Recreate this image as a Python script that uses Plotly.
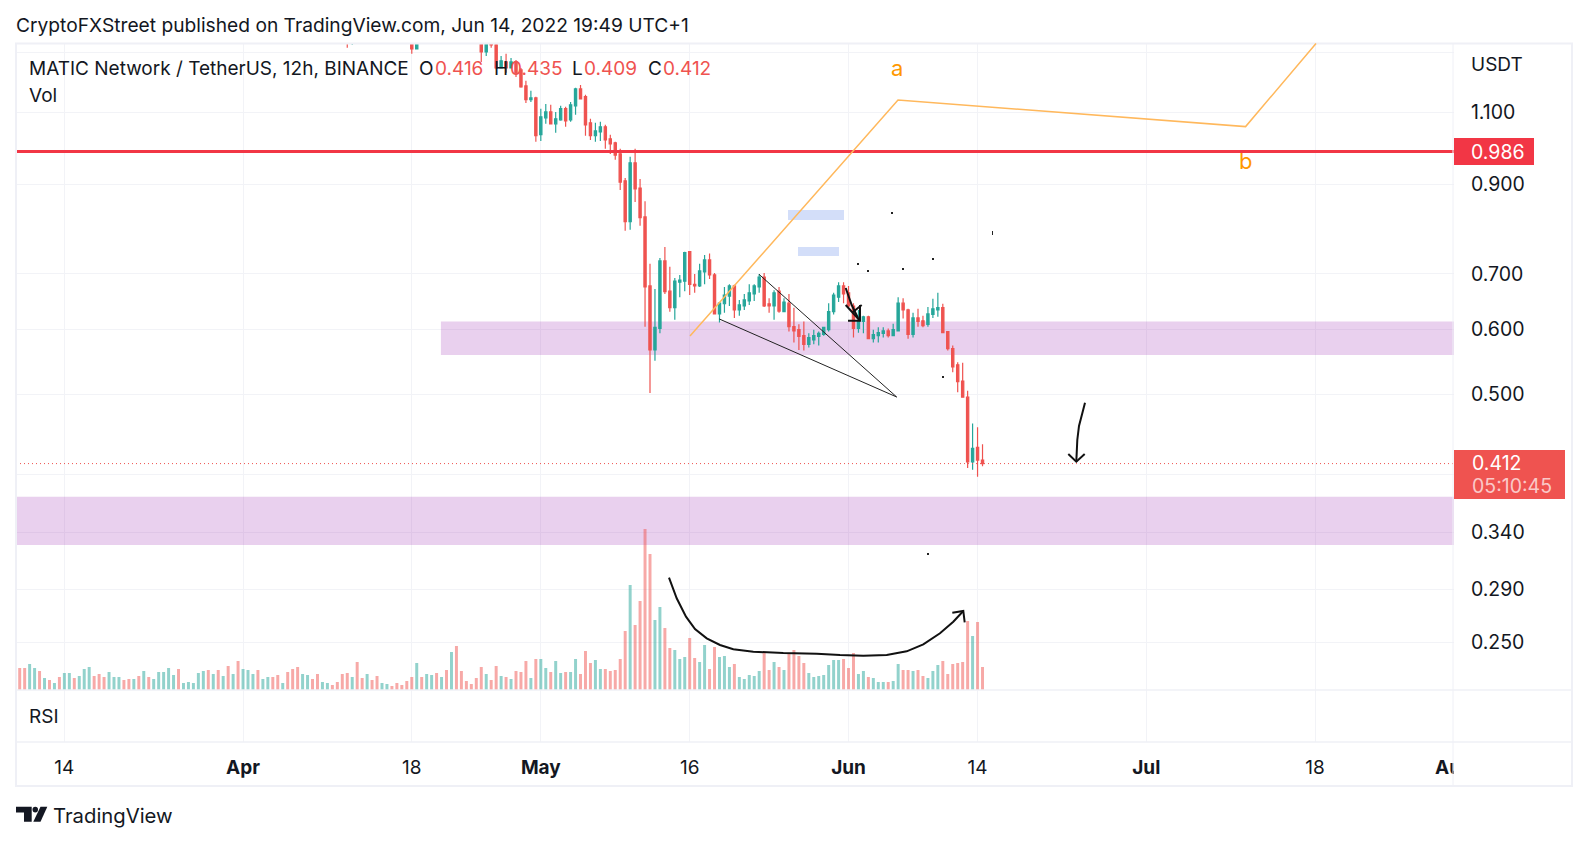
import numpy as np
import pandas as pd
import plotly.graph_objects as go

WIDTH = 1588
HEIGHT = 843

# 12h bars, first one is 2022-03-09 12:00
bar_times = pd.date_range("2022-03-09 12:00", periods=195, freq="12h")

volume = [
    22, 22, 26, 22, 19, 12, 10, 7, 13, 17, 17, 12, 14, 21, 23, 14, 16, 13, 18, 13,
    13, 10, 11, 11, 14, 19, 13, 11, 18, 18, 22, 15, 21, 7, 8, 7, 17, 19, 20, 16,
    20, 14, 24, 16, 29, 21, 20, 16, 20, 11, 13, 13, 15, 7, 18, 21, 23, 16, 15, 11,
    16, 8, 7, 5, 8, 16, 17, 13, 28, 12, 16, 10, 14, 7, 6, 4, 7, 5, 9, 13,
    27, 13, 16, 15, 17, 13, 20, 38, 44, 19, 9, 6, 12, 23, 16, 10, 24, 14, 13, 11,
    19, 18, 29, 12, 31, 31, 22, 18, 29, 17, 18, 18, 31, 16, 39, 27, 30, 21, 21, 19,
    20, 31, 59, 105, 65, 89, 161, 136, 70, 83, 62, 42, 40, 31, 33, 52, 32, 28, 45, 21,
    43, 33, 34, 23, 26, 13, 11, 15, 14, 19, 37, 20, 28, 23, 20, 36, 40, 34, 27, 17,
    13, 14, 15, 25, 30, 30, 31, 22, 37, 16, 19, 13, 12, 8, 8, 8, 9, 26, 20, 20,
    19, 20, 14, 12, 19, 25, 29, 16, 26, 27, 28, 69, 54, 68, 23,
]
volume_side = list(
    "ddUUdUdUdU" "UdUUUdddUU" "UddUdUdUUU" "UUdUUUUUdU" "dUdUdUUUdU"
    "UddUdddUUd" "dUUddddUdd" "UddUUddddd" "UdUUdUdUdd" "ddddUddUdU"
    "dddUdUUdUU" "dUUdddUUdd" "dddUddddUU" "ddUUUddUUd" "dUUUdUUUUU"
    "ddUdUddddU" "UUUUUUdddU" "UdUUUdUUdd" "UddUUUdddd" "ddUdd"
)

# prices only for the candles that show inside the pane, the rest sit above it
candle_idx = [66, 67, 79, 80, 93, 94, 95] + list(range(96, 195))
opens = [
    1.400, 1.335, 1.400, 1.313, 1.400, 1.302, 1.370,
    1.328, 1.245, 1.266, 1.245, 1.266, 1.238, 1.184, 1.139, 1.145, 1.033, 1.083, 1.101, 1.065, 1.077,
    1.111, 1.077, 1.120, 1.174, 1.149, 1.068, 1.030, 1.041, 1.056, 1.021, 1.010, 0.979, 0.908, 0.810,
    0.955, 0.890, 0.821, 0.677, 0.566, 0.601, 0.726, 0.667, 0.637, 0.684, 0.686, 0.745, 0.680, 0.677,
    0.704, 0.728, 0.698, 0.626, 0.644, 0.658, 0.677, 0.633, 0.640, 0.649, 0.662, 0.675, 0.694, 0.644,
    0.640, 0.667, 0.630, 0.645, 0.604, 0.599, 0.589, 0.575, 0.582, 0.588, 0.591, 0.599, 0.630, 0.656,
    0.677, 0.664, 0.640, 0.601, 0.613, 0.621, 0.584, 0.589, 0.593, 0.597, 0.589, 0.597, 0.645, 0.633,
    0.591, 0.619, 0.614, 0.608, 0.625, 0.633, 0.637, 0.596, 0.568, 0.543, 0.519, 0.496, 0.414, 0.431,
    0.416,
]
highs = [
    1.450, 1.450, 1.430, 1.420, 1.430, 1.420, 1.400,
    1.345, 1.287, 1.295, 1.280, 1.273, 1.245, 1.201, 1.168, 1.149, 1.111, 1.126, 1.123, 1.101, 1.120,
    1.117, 1.132, 1.178, 1.187, 1.155, 1.080, 1.068, 1.071, 1.062, 1.033, 1.013, 0.993, 0.915, 0.971,
    0.993, 0.913, 0.858, 0.720, 0.671, 0.732, 0.755, 0.714, 0.692, 0.698, 0.745, 0.745, 0.700, 0.720,
    0.738, 0.741, 0.702, 0.647, 0.675, 0.680, 0.679, 0.651, 0.662, 0.680, 0.680, 0.700, 0.702, 0.654,
    0.669, 0.675, 0.654, 0.662, 0.637, 0.608, 0.613, 0.593, 0.599, 0.596, 0.604, 0.645, 0.664, 0.684,
    0.684, 0.677, 0.645, 0.633, 0.623, 0.623, 0.599, 0.603, 0.603, 0.601, 0.609, 0.656, 0.654, 0.635,
    0.628, 0.635, 0.623, 0.638, 0.653, 0.664, 0.644, 0.597, 0.573, 0.547, 0.546, 0.505, 0.461, 0.456,
    0.435,
]
lows = [
    1.317, 1.328, 1.295, 1.313, 1.266, 1.287, 1.317,
    1.240, 1.245, 1.228, 1.245, 1.214, 1.178, 1.129, 1.132, 1.013, 1.015, 1.065, 1.065, 1.039, 1.074,
    1.056, 1.071, 1.092, 1.142, 1.030, 1.018, 1.013, 1.015, 0.993, 0.979, 0.963, 0.885, 0.790, 0.792,
    0.856, 0.801, 0.604, 0.502, 0.549, 0.593, 0.662, 0.630, 0.616, 0.656, 0.667, 0.660, 0.664, 0.675,
    0.680, 0.690, 0.625, 0.611, 0.628, 0.640, 0.619, 0.623, 0.633, 0.642, 0.649, 0.664, 0.638, 0.628,
    0.616, 0.628, 0.630, 0.596, 0.578, 0.566, 0.565, 0.570, 0.575, 0.573, 0.589, 0.596, 0.625, 0.647,
    0.645, 0.638, 0.586, 0.594, 0.593, 0.584, 0.578, 0.578, 0.586, 0.586, 0.589, 0.597, 0.618, 0.584,
    0.586, 0.604, 0.603, 0.604, 0.619, 0.621, 0.593, 0.565, 0.532, 0.503, 0.496, 0.407, 0.405, 0.397,
    0.409,
]
closes = [
    1.335, 1.400, 1.313, 1.390, 1.302, 1.390, 1.328,
    1.245, 1.270, 1.245, 1.266, 1.228, 1.181, 1.139, 1.145, 1.030, 1.086, 1.101, 1.065, 1.080, 1.111,
    1.074, 1.123, 1.174, 1.142, 1.062, 1.030, 1.044, 1.056, 1.018, 1.007, 0.976, 0.905, 0.810, 0.955,
    0.888, 0.819, 0.675, 0.566, 0.603, 0.726, 0.666, 0.637, 0.686, 0.688, 0.743, 0.680, 0.677, 0.706,
    0.728, 0.698, 0.626, 0.645, 0.660, 0.677, 0.633, 0.642, 0.651, 0.664, 0.677, 0.694, 0.640, 0.640,
    0.664, 0.631, 0.647, 0.604, 0.597, 0.588, 0.575, 0.586, 0.589, 0.593, 0.603, 0.630, 0.660, 0.677,
    0.662, 0.640, 0.601, 0.614, 0.621, 0.584, 0.591, 0.594, 0.597, 0.589, 0.599, 0.645, 0.633, 0.591,
    0.619, 0.613, 0.606, 0.626, 0.635, 0.637, 0.594, 0.568, 0.540, 0.518, 0.496, 0.414, 0.430, 0.416,
    0.412,
]

price_ticks = [1.3, 1.1, 0.9, 0.7, 0.6, 0.5, 0.4, 0.34, 0.29, 0.25]
price_labels = ["", "1.100", "0.900", "0.700", "0.600", "0.500", "", "0.340", "0.290", "0.250"]
date_ticks = ["2022-03-14", "2022-04-01", "2022-04-18", "2022-05-01", "2022-05-16",
              "2022-06-01", "2022-06-14", "2022-07-01", "2022-07-18", "2022-08-01"]
date_labels = ["14", "<b>Apr</b>", "18", "<b>May</b>", "16", "<b>Jun</b>", "14", "<b>Jul</b>", "18", "<b>Aug</b>"]

resistance = 0.986
last_close = 0.412
zone_upper = [0.558, 0.613]
zone_lower = [0.3281, 0.3755]

date_range = ["2022-03-09 03:03", "2022-08-01 00:00"]
price_range = [np.log10(0.2188), np.log10(1.333)]

TEAL = "#26a69a"
RED = "#ef5350"
INK = "#131722"
GRID = "#f2f3f7"
FRAME = "#eff0f6"
FONT = "Inter"


def px(x):
    return x / WIDTH


def py(y):
    return 1 - y / HEIGHT


def stroke(points, color="#111111", width=2.0):
    path = "M" + " L".join(f"{px(x):.5f},{py(y):.5f}" for x, y in points)
    return dict(type="path", path=path, xref="paper", yref="paper", layer="above",
                line=dict(color=color, width=width))


def box(x0, y0, x1, y1, color, layer="above"):
    return dict(type="rect", xref="paper", yref="paper", x0=px(x0), x1=px(x1), y0=py(y0), y1=py(y1),
                fillcolor=color, line=dict(width=0), layer=layer)


def label(text, x, y, size=19, color=INK, anchor="left"):
    return dict(text=text, x=px(x - 2 if anchor == "left" else x), y=py(y), xref="paper", yref="paper",
                xanchor=anchor, yanchor="middle", showarrow=False, align="left",
                font=dict(family=FONT, size=size, color=color))


fig = go.Figure()

fig.add_trace(go.Bar(
    x=bar_times,
    y=volume,
    yaxis="y2",
    width=12 * 3600 * 1000 * 0.6,
    marker_color=["rgba(38,166,154,0.5)" if s == "U" else "rgba(239,83,80,0.5)" for s in volume_side],
    marker_line_width=0,
    hoverinfo="skip",
))

fig.add_trace(go.Candlestick(
    x=bar_times[candle_idx],
    open=opens,
    high=highs,
    low=lows,
    close=closes,
    whiskerwidth=0,
    increasing=dict(line=dict(color=TEAL, width=1.2), fillcolor=TEAL),
    decreasing=dict(line=dict(color=RED, width=1.2), fillcolor=RED),
    hoverinfo="skip",
))

# empty RSI pane, only here so its axes get drawn
fig.add_trace(go.Scatter(x=[None], y=[None], xaxis="x2", yaxis="y3", hoverinfo="skip"))

shapes = [
    # zones and levels
    dict(type="rect", xref="x", yref="y", x0="2022-04-20 22:30", x1=date_range[1], y0=zone_upper[0], y1=zone_upper[1],
         fillcolor="rgba(156,39,176,0.22)", line=dict(width=0), layer="between"),
    dict(type="rect", xref="x", yref="y", x0=date_range[0], x1=date_range[1], y0=zone_lower[0], y1=zone_lower[1],
         fillcolor="rgba(156,39,176,0.22)", line=dict(width=0), layer="between"),
    dict(type="line", xref="x", yref="y", x0=date_range[0], x1=date_range[1], y0=last_close, y1=last_close,
         line=dict(color=RED, width=1, dash="1px,3px"), layer="above"),
    dict(type="line", xref="x", yref="y", x0=date_range[0], x1=date_range[1], y0=resistance, y1=resistance,
         line=dict(color="#f23645", width=3), layer="above"),
    # hides the right half of the Aug label, it gets cut at the price scale
    box(1454, 743, 1571, 785, "white"),
    # chart frame
    dict(type="rect", xref="paper", yref="paper", x0=px(16), x1=px(1572), y0=py(786), y1=py(43.5),
         line=dict(color=FRAME, width=2), layer="above"),
    dict(type="line", xref="paper", yref="paper", x0=px(1453), x1=px(1453), y0=py(786), y1=py(43.5),
         line=dict(color=FRAME, width=1), layer="above"),
    dict(type="line", xref="paper", yref="paper", x0=px(16), x1=px(1572), y0=py(690), y1=py(690),
         line=dict(color=FRAME, width=1.5), layer="above"),
    dict(type="line", xref="paper", yref="paper", x0=px(16), x1=px(1572), y0=py(742), y1=py(742),
         line=dict(color=FRAME, width=1.5), layer="above"),
    # price labels on the scale
    box(1454, 138, 1534, 165, "#f23645"),
    box(1454, 450, 1565, 499, RED),
    # leftovers of the drawings
    box(788, 210, 844, 220, "#d3def9"),
    box(798, 247, 839, 256, "#d3def9"),
    box(857, 263, 859, 265, "#222222"),
    box(867, 270, 869, 272, "#222222"),
    box(902, 268, 904, 270, "#222222"),
    box(932, 258, 934, 260, "#222222"),
    box(891, 212, 893, 214, "#222222"),
    box(992, 231, 993, 235, "#222222"),
    box(942, 376, 944, 378, "#222222"),
    box(927, 553, 929, 555, "#222222"),
    # orange abc line
    stroke([(690, 336), (898, 100), (1245.6, 126.6), (1316, 43.5)], color="#ffb85c", width=1.5),
    # wedge
    stroke([(719.3, 319), (896.7, 397), (759, 274.3)], color="#222222", width=1),
    # small arrow
    stroke([(845.7, 288), (851.7, 305), (858, 318)]),
    stroke([(845.7, 305), (860, 320.7)]),
    stroke([(848, 320.7), (860, 320.7), (860, 305)]),
    stroke([(861.7, 305), (853, 312)]),
    # volume curve
    stroke([(669, 577.7), (676.7, 598.3), (686, 616.7), (695, 629), (706.7, 638.3), (720, 645), (733.3, 649.3),
            (753.3, 651.7), (783.3, 653), (816.7, 653.7), (840, 655), (863.3, 655.7), (886.7, 655), (906.7, 651.3),
            (923.3, 644.3), (940, 633.3), (953.3, 621.7), (963.3, 611)]),
    stroke([(952.3, 612.7), (963.3, 611), (964.7, 622.3)]),
    # down arrow
    stroke([(1085, 402.7), (1082.3, 413.3), (1079, 426), (1077.3, 440), (1076.3, 461.7)]),
    stroke([(1068.3, 454), (1076.3, 461.7), (1084.7, 454)]),
    # logo
    dict(type="path", xref="paper", yref="paper", fillcolor=INK, line=dict(width=0), layer="above",
         path="M" + " L".join(f"{px(x):.5f},{py(y):.5f}" for x, y in
                              [(16, 806.7), (31.7, 806.7), (31.7, 821.7), (24, 821.7), (24, 812.4), (16, 812.4)]) + " Z"),
    dict(type="circle", xref="paper", yref="paper", x0=px(32.5), x1=px(38), y0=py(812.4), y1=py(806.7),
         fillcolor=INK, line=dict(width=0), layer="above"),
    dict(type="path", xref="paper", yref="paper", fillcolor=INK, line=dict(width=0), layer="above",
         path="M" + " L".join(f"{px(x):.5f},{py(y):.5f}" for x, y in
                              [(40.5, 806.7), (47.3, 806.7), (40.5, 821.7), (33.3, 821.7)]) + " Z"),
]

annotations = [
    label("CryptoFXStreet published on TradingView.com, Jun 14, 2022 19:49 UTC+1", 16, 25.5, size=19.2),
    label("MATIC Network / TetherUS, 12h, BINANCE", 29.4, 69),
    label("O", 419, 69),
    label("0.416", 435, 69, color=RED),
    label("H", 494, 69),
    label("0.435", 510, 69, color=RED),
    label("L", 572, 69),
    label("0.409", 584, 69, color=RED),
    label("C", 648, 69),
    label("0.412", 663, 69, color=RED),
    label("Vol", 29.4, 96),
    label("RSI", 29.4, 716),
    label("USDT", 1471, 65),
    label("0.986", 1471, 151.5, size=19.5, color="white"),
    label("0.412", 1472, 463, size=19.5, color="white"),
    label("05:10:45", 1472, 486, size=19.5, color="rgba(255,255,255,0.7)"),
    label("a", 897, 68, size=22, color="#ff9800", anchor="center"),
    label("b", 1245.6, 161, size=22, color="#ff9800", anchor="center"),
    label("TradingView", 53, 815, size=20.3),
]

fig.update_layout(
    width=WIDTH,
    height=HEIGHT,
    margin=dict(l=0, r=0, t=0, b=0, autoexpand=False),
    paper_bgcolor="white",
    plot_bgcolor="rgba(0,0,0,0)",
    showlegend=False,
    boxgap=0.35,
    font=dict(family=FONT, size=19, color=INK),
    shapes=shapes,
    annotations=annotations,
    xaxis=dict(
        domain=[px(16), px(1454)], range=date_range, type="date", anchor="y",
        rangeslider=dict(visible=False), tickvals=date_ticks, ticktext=date_labels,
        showticklabels=False, showgrid=True, gridcolor=GRID, gridwidth=1, zeroline=False,
    ),
    yaxis=dict(
        domain=[py(690), py(43.5)], type="log", range=price_range, side="right", anchor="x",
        tickmode="array", tickvals=price_ticks, ticktext=price_labels,
        ticks="outside", ticklen=12, tickcolor="rgba(0,0,0,0)",
        showgrid=True, gridcolor=GRID, gridwidth=1, zeroline=False,
        tickfont=dict(family=FONT, size=19.5, color=INK),
    ),
    yaxis2=dict(
        overlaying="y", range=[0, 646.5], visible=False, anchor="x",
    ),
    xaxis2=dict(
        domain=[px(16), px(1454)], range=date_range, type="date", anchor="y3",
        tickvals=date_ticks, ticktext=date_labels,
        ticks="outside", ticklen=8, tickcolor="rgba(0,0,0,0)",
        showgrid=True, gridcolor=GRID, gridwidth=1, zeroline=False,
        tickfont=dict(family=FONT, size=19, color=INK),
    ),
    yaxis3=dict(
        domain=[py(742), py(690)], range=[0, 1], anchor="x2",
        showgrid=False, showticklabels=False, zeroline=False,
    ),
)

fig.write_html("out.html", config={"displayModeBar": False, "responsive": False},
               post_script="document.body.style.margin='0';")
